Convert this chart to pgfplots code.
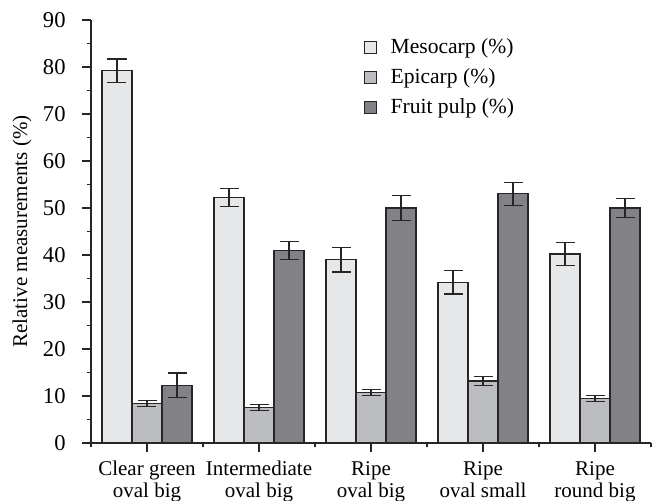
\documentclass[border=0pt]{standalone}
\usepackage{fontspec}
\setmainfont{Liberation Serif}
\usepackage{pgfplots}
\usepackage{pgfplotstable}
\pgfplotsset{compat=1.18}
\definecolor{meso}{HTML}{E6E7E8}
\definecolor{epi}{HTML}{BCBDC0}
\definecolor{pulp}{HTML}{808285}
\pgfplotstableread{
x meso mesoerr epi epierr pulp pulperr
0 79.2 2.5 8.4 0.65 12.3 2.6
1 52.2 1.9 7.6 0.65 41.0 1.9
2 39.0 2.6 10.7 0.6 50.0 2.6
3 34.2 2.5 13.2 1.0 53.0 2.5
4 40.2 2.4 9.4 0.65 50.0 2.1
}\datatable
\begin{document}
\fontsize{10.5}{12}\selectfont
\begin{tikzpicture}
\begin{axis}[
  width=280pt, height=211.5pt, scale only axis,
  ybar=0pt, bar width=15pt,
  xmin=-0.5, xmax=4.5, ymin=0, ymax=90,
  axis lines=left,
  axis line style={-, line width=0.6pt, black!85},
  tick style={line width=0.6pt, black!85},
  tick align=outside,
  major tick length=4.5pt, minor tick length=2.2pt,
  xtick={0,1,2,3,4},
  xticklabels={{Clear green\\oval big},{Intermediate\\oval big},{Ripe\\oval big},{Ripe\\oval small},{Ripe\\round big}},
  xticklabel style={align=center, font=\fontsize{10.5}{11}\selectfont, yshift=-1pt},
  minor xtick={-0.5,0.5,1.5,2.5,3.5,4.5},
  ytick={0,10,...,90},
  minor ytick={5,15,...,85},
  yticklabel style={font=\fontsize{11.3}{12}\selectfont, xshift=-4.5pt},
  /pgf/number format/assume math mode=true,
  ylabel={Relative measurements (\%)},
  every axis y label/.style={at={(rel axis cs:0,0.5)}, rotate=90, anchor=center, yshift=34.5pt, font=\fontsize{10.5}{12}\selectfont},
  legend style={draw=none, fill=none, at={(rel axis cs:0.476,0.977)}, anchor=north west,
    font=\fontsize{10.8}{12}\selectfont, row sep=2pt},
  legend cell align=left,
  legend image code/.code={\draw[#1, line width=0.6pt] (0pt,-3pt) rectangle (6pt,3pt); \path[draw=none, fill=none] (0pt,0pt) -- (11pt,0pt);},
  every axis plot/.append style={draw=black!85, line width=0.6pt},
  error bars/y dir=both, error bars/y explicit,
  error bars/error bar style={line width=0.6pt, black!85},
  error bars/error mark options={line width=0.6pt, black!85, mark size=4.75pt, rotate=90},
]
\coordinate (o) at (rel axis cs:0,0);
\coordinate (tr) at (rel axis cs:1,1);
\addplot[fill=meso] table[x=x, y=meso, y error=mesoerr]{\datatable};
\addplot[fill=epi] table[x=x, y=epi, y error=epierr]{\datatable};
\addplot[fill=pulp] table[x=x, y=pulp, y error=pulperr]{\datatable};
\legend{Mesocarp (\%), Epicarp (\%), Fruit pulp (\%)}
\end{axis}
\pgfresetboundingbox
\path ([shift={(-45.5pt,-29pt)}]o) rectangle ([shift={(3pt,10pt)}]tr);
\end{tikzpicture}
\end{document}
